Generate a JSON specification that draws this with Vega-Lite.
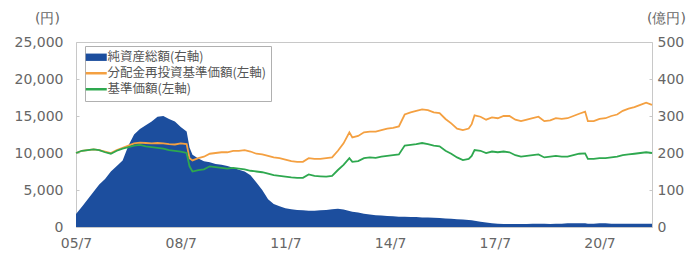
{
  "$schema": "https://vega.github.io/schema/vega-lite/v6.json",
  "width": 576,
  "height": 185,
  "autosize": "none",
  "padding": {"left": 76, "top": 42, "right": 40, "bottom": 32},
  "background": "white",
  "config": {
    "font": "DejaVu Sans",
    "view": {"stroke": "#c8c8c8", "strokeWidth": 1},
    "legend": {"title": null, "strokeColor": "#b0b0b0", "fillColor": "white", "padding": 5},
    "axis": {"labelFont": "DejaVu Sans", "labelFontSize": 14, "labelColor": "#666666", "domain": false, "grid": false, "ticks": true, "tickColor": "#c8c8c8", "titleFont": "DejaVu Sans", "titleFontSize": 14, "titleColor": "#666666", "titleFontWeight": "normal", "labelOverlap": false}
  },
  "data": {"values": [
    {"d":"2005-07-01","t":35,"n":10000,"r":10000},
    {"d":"2005-09-01","t":55,"n":10300,"r":10300},
    {"d":"2005-11-01","t":75,"n":10400,"r":10400},
    {"d":"2006-01-01","t":95,"n":10500,"r":10500},
    {"d":"2006-03-01","t":115,"n":10400,"r":10400},
    {"d":"2006-05-01","t":130,"n":10100,"r":10200},
    {"d":"2006-07-01","t":150,"n":9900,"r":10000},
    {"d":"2006-09-01","t":165,"n":10300,"r":10400},
    {"d":"2006-11-01","t":180,"n":10600,"r":10700},
    {"d":"2007-01-01","t":220,"n":10800,"r":11000},
    {"d":"2007-03-01","t":250,"n":11000,"r":11300},
    {"d":"2007-05-01","t":265,"n":11100,"r":11400},
    {"d":"2007-07-01","t":275,"n":10900,"r":11350},
    {"d":"2007-09-01","t":285,"n":10800,"r":11300},
    {"d":"2007-11-01","t":298,"n":10700,"r":11350},
    {"d":"2008-01-01","t":300,"n":10600,"r":11300},
    {"d":"2008-03-01","t":292,"n":10400,"r":11200},
    {"d":"2008-05-01","t":285,"n":10300,"r":11150},
    {"d":"2008-07-01","t":270,"n":10200,"r":11300},
    {"d":"2008-09-01","t":258,"n":10000,"r":11200},
    {"d":"2008-10-01","t":215,"n":8200,"r":9300},
    {"d":"2008-11-01","t":195,"n":7500,"r":9000},
    {"d":"2009-01-01","t":185,"n":7700,"r":9300},
    {"d":"2009-03-01","t":178,"n":7800,"r":9500},
    {"d":"2009-05-01","t":175,"n":8200,"r":9900},
    {"d":"2009-07-01","t":170,"n":8100,"r":10000},
    {"d":"2009-09-01","t":168,"n":8000,"r":10100},
    {"d":"2009-11-01","t":165,"n":7900,"r":10100},
    {"d":"2010-01-01","t":160,"n":8000,"r":10300},
    {"d":"2010-03-01","t":155,"n":7900,"r":10300},
    {"d":"2010-05-01","t":150,"n":7800,"r":10400},
    {"d":"2010-07-01","t":140,"n":7600,"r":10200},
    {"d":"2010-09-01","t":120,"n":7500,"r":9900},
    {"d":"2010-11-01","t":100,"n":7400,"r":9800},
    {"d":"2011-01-01","t":75,"n":7200,"r":9600},
    {"d":"2011-03-01","t":62,"n":7000,"r":9400},
    {"d":"2011-05-01","t":56,"n":6900,"r":9300},
    {"d":"2011-07-01","t":51,"n":6800,"r":9100},
    {"d":"2011-09-01","t":48,"n":6700,"r":8900},
    {"d":"2011-11-01","t":46,"n":6650,"r":8800},
    {"d":"2012-01-01","t":45,"n":6650,"r":8800},
    {"d":"2012-03-01","t":44,"n":7100,"r":9300},
    {"d":"2012-05-01","t":44,"n":6900,"r":9200},
    {"d":"2012-07-01","t":45,"n":6850,"r":9200},
    {"d":"2012-09-01","t":46,"n":6800,"r":9300},
    {"d":"2012-11-01","t":48,"n":6900,"r":9400},
    {"d":"2013-01-01","t":49,"n":7700,"r":10300},
    {"d":"2013-03-01","t":47,"n":8400,"r":11300},
    {"d":"2013-05-01","t":43,"n":9300,"r":12800},
    {"d":"2013-06-01","t":41,"n":8800,"r":12100},
    {"d":"2013-08-01","t":39,"n":8900,"r":12300},
    {"d":"2013-10-01","t":36,"n":9300,"r":12800},
    {"d":"2013-12-01","t":34,"n":9400,"r":12900},
    {"d":"2014-02-01","t":32,"n":9350,"r":12900},
    {"d":"2014-04-01","t":31,"n":9500,"r":13100},
    {"d":"2014-06-01","t":30,"n":9600,"r":13300},
    {"d":"2014-08-01","t":29,"n":9700,"r":13400},
    {"d":"2014-10-01","t":28,"n":9800,"r":13600},
    {"d":"2014-12-01","t":28,"n":11000,"r":15200},
    {"d":"2015-02-01","t":27,"n":11100,"r":15500},
    {"d":"2015-04-01","t":27,"n":11200,"r":15700},
    {"d":"2015-06-01","t":26,"n":11350,"r":15900},
    {"d":"2015-08-01","t":26,"n":11200,"r":15800},
    {"d":"2015-10-01","t":25,"n":11000,"r":15500},
    {"d":"2015-12-01","t":24,"n":10900,"r":15400},
    {"d":"2016-02-01","t":23,"n":10300,"r":14600},
    {"d":"2016-04-01","t":22,"n":9900,"r":14000},
    {"d":"2016-06-01","t":21,"n":9400,"r":13300},
    {"d":"2016-08-01","t":20,"n":9050,"r":13100},
    {"d":"2016-10-01","t":19,"n":9200,"r":13300},
    {"d":"2016-11-01","t":18,"n":9600,"r":13900},
    {"d":"2016-12-01","t":17,"n":10400,"r":15100},
    {"d":"2017-02-01","t":14,"n":10300,"r":14900},
    {"d":"2017-04-01","t":12,"n":10000,"r":14500},
    {"d":"2017-06-01","t":10,"n":10200,"r":14800},
    {"d":"2017-08-01","t":9,"n":10100,"r":14700},
    {"d":"2017-10-01","t":8,"n":10200,"r":15000},
    {"d":"2017-12-01","t":8,"n":10100,"r":15000},
    {"d":"2018-02-01","t":8,"n":9700,"r":14500},
    {"d":"2018-04-01","t":8,"n":9500,"r":14300},
    {"d":"2018-06-01","t":8,"n":9600,"r":14500},
    {"d":"2018-08-01","t":9,"n":9700,"r":14700},
    {"d":"2018-10-01","t":9,"n":9800,"r":14900},
    {"d":"2018-12-01","t":9,"n":9400,"r":14300},
    {"d":"2019-02-01","t":8,"n":9500,"r":14400},
    {"d":"2019-04-01","t":9,"n":9600,"r":14700},
    {"d":"2019-06-01","t":9,"n":9500,"r":14600},
    {"d":"2019-08-01","t":10,"n":9500,"r":14700},
    {"d":"2019-10-01","t":10,"n":9700,"r":15000},
    {"d":"2019-12-01","t":10,"n":9900,"r":15300},
    {"d":"2020-02-01","t":10,"n":9950,"r":15600},
    {"d":"2020-03-01","t":9,"n":9200,"r":14300},
    {"d":"2020-05-01","t":9,"n":9200,"r":14300},
    {"d":"2020-07-01","t":10,"n":9300,"r":14600},
    {"d":"2020-09-01","t":10,"n":9300,"r":14700},
    {"d":"2020-11-01","t":9,"n":9400,"r":15000},
    {"d":"2021-01-01","t":9,"n":9500,"r":15200},
    {"d":"2021-03-01","t":9,"n":9700,"r":15700},
    {"d":"2021-05-01","t":9,"n":9800,"r":16000},
    {"d":"2021-07-01","t":9,"n":9900,"r":16200},
    {"d":"2021-09-01","t":9,"n":10000,"r":16500},
    {"d":"2021-11-01","t":9,"n":10100,"r":16800},
    {"d":"2022-01-01","t":9,"n":10000,"r":16500}
  ]},
  "encoding": {
    "x": {
      "field": "d", "type": "temporal",
      "scale": {"type": "utc", "domain": [{"year":2005,"month":7,"date":1,"utc":true},{"year":2022,"month":1,"date":1,"utc":true}]},
      "axis": {
        "title": null, "format": "%y/%-m", "labelPadding": 9, "tickSize": 0, "labelFlush": false,
        "values": [
          {"year":2005,"month":7,"date":1,"utc":true},
          {"year":2008,"month":7,"date":1,"utc":true},
          {"year":2011,"month":7,"date":1,"utc":true},
          {"year":2014,"month":7,"date":1,"utc":true},
          {"year":2017,"month":7,"date":1,"utc":true},
          {"year":2020,"month":7,"date":1,"utc":true}
        ]
      }
    }
  },
  "layer": [
    {
      "mark": {"type": "area", "opacity": 1, "interpolate": "linear"},
      "encoding": {
        "y": {
          "field": "t", "type": "quantitative",
          "scale": {"domain": [0, 500], "nice": false},
          "axis": {"orient": "right", "values": [0,100,200,300,400,500], "tickSize": -3, "labelPadding": 8, "labelOverlap": false, "title": "(億円)", "titleAngle": 0, "titleX": 14, "titleY": -24, "titleAlign": "center", "titleBaseline": "middle"}
        },
        "color": {
          "datum": "t",
          "title": null,
          "scale": {"domain": ["t", "r", "n"], "range": ["#1c4e9e", "#f4a041", "#2ea84f"]},
          "legend": {
            "title": null,
            "labelExpr": "datum.value === 't' ? '純資産総額(右軸)' : datum.value === 'r' ? '分配金再投資基準価額(左軸)' : '基準価額(左軸)'",
            "orient": "none", "legendX": 9, "legendY": 4,
            "direction": "vertical",
            "strokeColor": "#b0b0b0", "fillColor": "white", "padding": 5,
            "labelFont": "Noto Sans CJK JP", "labelFontSize": 12.5, "labelColor": "#555555",
            "labelOffset": 5, "rowPadding": 3, "symbolSize": 441, "symbolOpacity": 1,
            "encode": {
              "symbols": {
                "update": {
                  "shape": {"signal": "datum.value === 't' ? 'M-1,-0.35H1V0.35H-1Z' : 'M-1,0H1'"},
                  "fill": {"signal": "datum.value === 't' ? '#1c4e9e' : 'transparent'"},
                  "stroke": {"signal": "scale('color', datum.value)"},
                  "strokeWidth": {"signal": "datum.value === 't' ? 0 : 2.5"},
                  "opacity": {"value": 1}
                }
              }
            }
          }
        }
      }
    },
    {
      "transform": [{"fold": ["r", "n"], "as": ["series", "value"]}],
      "mark": {"type": "line", "strokeWidth": 1.8},
      "encoding": {
        "y": {
          "field": "value", "type": "quantitative",
          "scale": {"domain": [0, 25000], "nice": false},
          "axis": {"orient": "left", "values": [0,5000,10000,15000,20000,25000], "format": ",d", "tickSize": -3, "labelPadding": 16, "labelOverlap": false, "title": "(円)", "titleAngle": 0, "titleX": -29, "titleY": -24, "titleAlign": "center", "titleBaseline": "middle"}
        },
        "color": {
          "field": "series", "type": "nominal", "title": null,
          "legend": {
            "title": null,
            "labelExpr": "datum.value === 't' ? '純資産総額(右軸)' : datum.value === 'r' ? '分配金再投資基準価額(左軸)' : '基準価額(左軸)'",
            "orient": "none", "legendX": 9, "legendY": 4,
            "direction": "vertical",
            "strokeColor": "#b0b0b0", "fillColor": "white", "padding": 5,
            "labelFont": "Noto Sans CJK JP", "labelFontSize": 12.5, "labelColor": "#555555",
            "labelOffset": 5, "rowPadding": 3, "symbolSize": 441, "symbolOpacity": 1,
            "encode": {
              "symbols": {
                "update": {
                  "shape": {"signal": "datum.value === 't' ? 'M-1,-0.35H1V0.35H-1Z' : 'M-1,0H1'"},
                  "fill": {"signal": "datum.value === 't' ? '#1c4e9e' : 'transparent'"},
                  "stroke": {"signal": "scale('color', datum.value)"},
                  "strokeWidth": {"signal": "datum.value === 't' ? 0 : 2.5"},
                  "opacity": {"value": 1}
                }
              }
            }
          }
        }
      }
    }
  ],
  "resolve": {"scale": {"y": "independent"}}
}
